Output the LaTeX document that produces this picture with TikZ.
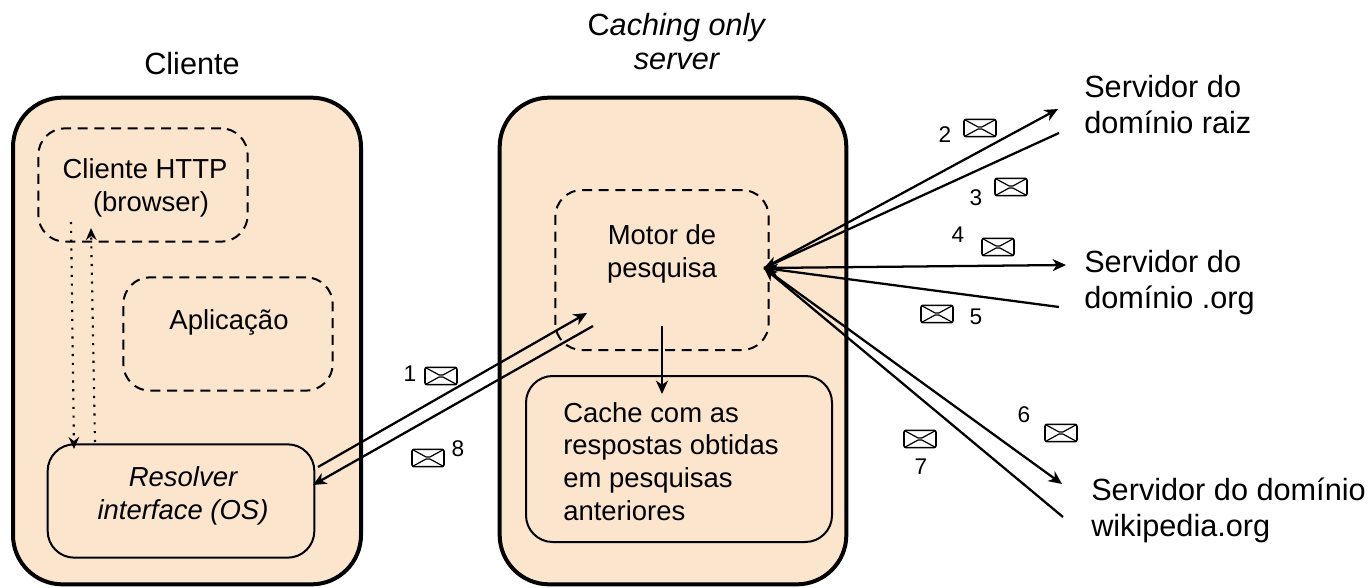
\documentclass[tikz,border=0pt]{standalone}
\usepackage{fontspec}
\setmainfont{Liberation Sans}
\usetikzlibrary{positioning,arrows.meta}

\begin{document}
\begin{tikzpicture}[x=0.75pt,y=-0.75pt,
	host/.style = {draw, line width=3pt, fill=peach, rounded corners=37pt, inner sep=0pt},
	inner box/.style = {draw, line width=1.5pt, fill=peach, rounded corners=20pt, inner sep=0pt},
	dash box/.style = {draw, line width=1.5pt, dash pattern=on 7.5pt off 5pt, rounded corners=20pt, inner sep=0pt},
	label/.style = {align=left, font=\fontsize{20.6}{24.6}\selectfont, inner sep=0pt},
	centred/.style = {label, align=center},
	big label/.style = {align=left, font=\fontsize{23}{27}\selectfont, inner sep=0pt},
	num/.style = {font=\fontsize{17}{20}\selectfont, inner sep=0pt},
	envelope/.style = {draw, line width=1.2pt, rounded corners=1.5pt, minimum width=24pt, minimum height=13pt, inner sep=0pt,
		path picture={\draw[line width=0.9pt] (path picture bounding box.north west) -- (path picture bounding box.center) -- (path picture bounding box.north east)
			(path picture bounding box.south west) -- (path picture bounding box.center) -- (path picture bounding box.south east);}},
	link/.style = {line width=1.7pt, -{Stealth[length=10pt,width=9pt,inset=3pt]}},
	dots/.style = {line width=1.6pt, dash pattern=on 1.6pt off 5pt, -{Stealth[length=9pt,width=8pt,inset=3pt]}}]
	\definecolor{peach}{HTML}{FCE5CD}
	\useasboundingbox (0,0) rectangle (1369,588);

	% hosts
	\node[host, minimum width=261pt, minimum height=365pt] (client) at (187,341) {};
	\node[host, minimum width=260pt, minimum height=365pt] (server) at (673,341) {};
	\node[big label] (clientname) at (192,64) {Cliente};
	\node[big label, align=center, font=\fontsize{23}{25.5}\selectfont] (servername) at (677,42) {C\textit{aching only}\\\textit{server}};

	% client side
	\node[dash box, minimum width=157pt, minimum height=85pt] (http) at (143,185) {};
	\node[centred] (httpname) at (145,188) {Cliente HTTP\\\hspace{9pt}(browser)};
	\node[dash box, minimum width=157pt, minimum height=85pt] (app) at (228,334) {};
	\node[label] (appname) at (229,322) {Aplicação};
	\node[inner box, minimum width=200pt, minimum height=85pt] (resolver) at (181,501) {};
	\node[centred, font=\fontsize{20.6}{24.6}\selectfont\itshape] (resolvername) at (183,496) {Resolver\\interface (OS)};

	% server side
	\node[dash box, minimum width=160pt, minimum height=120pt] (motor) at (662,270) {};
	\node[centred] (motorname) at (662,254) {Motor de\\pesquisa};
	\node[inner box, minimum width=229.5pt, minimum height=124.5pt] (cache) at (679,459) {};
	\node[label, anchor=west] (cachetext) at (563,461.5) {Cache com as\\respostas obtidas\\em pesquisas\\anteriores};

	% name servers
	\node[big label, anchor=west] (raiz) at (1084,105) {Servidor do\\domínio raiz};
	\node[big label, anchor=west] (org) at (1084,283) {Servidor do\\domínio .org};
	\node[big label, anchor=west] (wiki) at (1091,510) {Servidor do domínio\\wikipedia.org};

	% connector ends
	\coordinate (hub) at (764,268);
	\coordinate (a1) at (318,467); \coordinate (b1) at (587,313);
	\coordinate (a8) at (593,326); \coordinate (b8) at (313,485);
	\coordinate (b2) at (1058,109); \coordinate (a3) at (1059,133);
	\coordinate (b4) at (1066,265); \coordinate (a5) at (1059,307);
	\coordinate (b6) at (1062,484); \coordinate (a7) at (1063,517);
	\coordinate (a9) at (662,326); \coordinate (b9) at (662,394);
	\coordinate (d1) at (71,222); \coordinate (d2) at (74,449);
	\coordinate (d3) at (95,442); \coordinate (d4) at (91,228);

	\draw[link] (a1) -- (b1);
	\draw[link] (a8) -- (b8);
	\draw[link] (hub) -- (b2);
	\draw[link] (a3) -- (hub);
	\draw[link] (hub) -- (b4);
	\draw[link] (a5) -- (hub);
	\draw[link] (hub) -- (b6);
	\draw[link] (a7) -- (hub);
	\draw[link] (a9) -- (b9);
	\draw[dots] (d1) -- (d2);
	\draw[dots] (d3) -- (d4);

	% messages
	\node[envelope] (env1) at (441,376) {};
	\node[num] (num1) at (410,374) {1};
	\node[envelope] (env2) at (980,128) {};
	\node[num] (num2) at (945,135) {2};
	\node[envelope] (env3) at (1011,187) {};
	\node[num] (num3) at (976,198) {3};
	\node[envelope] (env4) at (998,247) {};
	\node[num] (num4) at (958,235) {4};
	\node[envelope] (env5) at (937,314) {};
	\node[num] (num5) at (976,317) {5};
	\node[envelope] (env6) at (1061,433) {};
	\node[num] (num6) at (1024,415) {6};
	\node[envelope] (env7) at (920,439) {};
	\node[num] (num7) at (921,467) {7};
	\node[envelope] (env8) at (428,458) {};
	\node[num] (num8) at (458,449) {8};
\end{tikzpicture}
\end{document}
